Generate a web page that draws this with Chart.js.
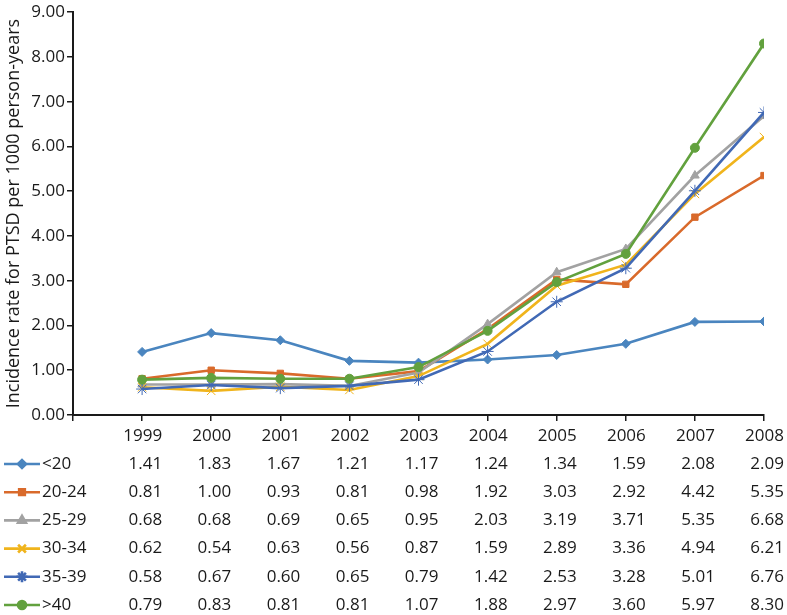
<!DOCTYPE html>
<html>
<head>
<meta charset="utf-8">
<script src="https://cdn.jsdelivr.net/npm/chart.js@4.4.1/dist/chart.umd.min.js"></script>
<style>
html,body{margin:0;padding:0;background:#fff;}
#wrap{width:787px;height:615px;position:relative;}
</style>
</head>
<body>
<div id="wrap"><canvas id="c" width="787" height="615"></canvas></div>
<script>
const years = [1999, 2000, 2001, 2002, 2003, 2004, 2005, 2006, 2007, 2008];
const seriesNames = ['<20', '20-24', '25-29', '30-34', '35-39', '>40'];
const s_lt20  = [1.41, 1.83, 1.67, 1.21, 1.17, 1.24, 1.34, 1.59, 2.08, 2.09];
const s_20_24 = [0.81, 1.00, 0.93, 0.81, 0.98, 1.92, 3.03, 2.92, 4.42, 5.35];
const s_25_29 = [0.68, 0.68, 0.69, 0.65, 0.95, 2.03, 3.19, 3.71, 5.35, 6.68];
const s_30_34 = [0.62, 0.54, 0.63, 0.56, 0.87, 1.59, 2.89, 3.36, 4.94, 6.21];
const s_35_39 = [0.58, 0.67, 0.60, 0.65, 0.79, 1.42, 2.53, 3.28, 5.01, 6.76];
const s_gt40  = [0.79, 0.83, 0.81, 0.81, 1.07, 1.88, 2.97, 3.60, 5.97, 8.30];
const yTicks = [0, 1, 2, 3, 4, 5, 6, 7, 8, 9];
const yTitle = 'Incidence rate for PTSD per 1000 person-years';

const allSeries = [s_lt20, s_20_24, s_25_29, s_30_34, s_35_39, s_gt40];
const colors = ['#4a85bf', '#d96a2b', '#a2a2a2', '#f0b41c', '#4169b5', '#62a13e'];
const styles = ['rectRot', 'rect', 'triangle', 'crossRot', 'star', 'circle'];
const radii  = [4.5, 4.5, 5, 6, 6, 4.5];
const legendRadii = [4, 4, 4.5, 5.5, 5.5, 4];
const FONT = '"Open Sans", "Noto Sans", sans-serif';

const datasets = allSeries.map((vals, i) => ({
  label: seriesNames[i],
  data: years.map((yr, j) => ({x: yr, y: vals[j]})),
  borderColor: colors[i],
  backgroundColor: colors[i],
  pointBackgroundColor: colors[i],
  pointBorderColor: colors[i],
  pointStyle: styles[i],
  pointRadius: radii[i],
  pointBorderWidth: 1,
  borderWidth: 2.6,
  tension: 0,
  order: 6 - i
}));

const tablePlugin = {
  id: 'tablePlugin',
  afterDraw(chart) {
    const ctx = chart.ctx;
    const xs = chart.scales.x;
    ctx.save();
    ctx.fillStyle = '#1a1a1a';
    ctx.font = '17px ' + FONT;
    ctx.textBaseline = 'middle';
    ctx.textAlign = 'right';
    const headerY = 436;
    years.forEach(yr => {
      ctx.fillText(String(yr), xs.getPixelForValue(yr) + 20, headerY);
    });
    allSeries.forEach((vals, i) => {
      const rowY = 464 + i * 28.2;
      vals.forEach((v, j) => {
        ctx.fillText(v.toFixed(2), xs.getPixelForValue(years[j]) + 20, rowY);
      });
      ctx.strokeStyle = colors[i];
      ctx.lineWidth = 2.6;
      ctx.beginPath();
      ctx.moveTo(4, rowY);
      ctx.lineTo(40, rowY);
      ctx.stroke();
      ctx.fillStyle = colors[i];
      Chart.helpers.drawPoint(ctx, {
        pointStyle: styles[i],
        radius: legendRadii[i],
        rotation: 0,
        borderWidth: 1
      }, 22, rowY);
      ctx.fillStyle = '#1a1a1a';
      ctx.textAlign = 'left';
      ctx.fillText(seriesNames[i], 42, rowY);
      ctx.textAlign = 'right';
    });
    ctx.restore();
  }
};

new Chart(document.getElementById('c'), {
  type: 'line',
  data: { datasets },
  options: {
    responsive: false,
    animation: false,
    devicePixelRatio: 1,
    layout: { padding: { left: 0, right: 23, top: 7, bottom: 0 } },
    plugins: {
      legend: { display: false },
      tooltip: { enabled: false }
    },
    scales: {
      x: {
        type: 'linear',
        min: 1998,
        max: 2008,
        afterFit(scale) { scale.height = 200; },
        afterBuildTicks(scale) {
          scale.ticks = [1998].concat(years).map(v => ({value: v}));
        },
        ticks: { display: false },
        grid: {
          drawOnChartArea: false,
          drawTicks: true,
          tickLength: 6,
          color: '#1a1a1a',
          lineWidth: 1.5
        },
        border: { display: true, color: '#1a1a1a', width: 2 }
      },
      y: {
        min: 0,
        max: 9,
        afterFit(scale) { scale.width = 73; },
        afterBuildTicks(scale) {
          scale.ticks = yTicks.map(v => ({value: v}));
        },
        ticks: {
          color: '#1a1a1a',
          font: { family: FONT, size: 17 },
          padding: 2,
          callback: v => Number(v).toFixed(2)
        },
        title: {
          display: true,
          text: yTitle,
          color: '#1a1a1a',
          font: { family: FONT, size: 18 },
          padding: { top: 3, bottom: 0 }
        },
        grid: {
          drawOnChartArea: false,
          drawTicks: true,
          tickLength: 6,
          color: '#1a1a1a',
          lineWidth: 1.5
        },
        border: { display: true, color: '#1a1a1a', width: 2 }
      }
    }
  },
  plugins: [tablePlugin]
});
</script>
</body>
</html>
